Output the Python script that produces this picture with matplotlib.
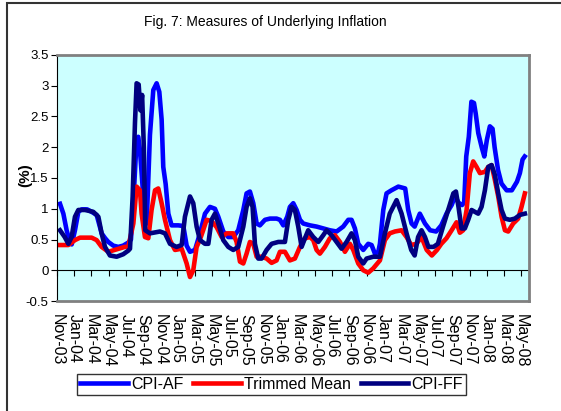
import matplotlib
matplotlib.use("Agg")
import matplotlib.pyplot as plt
from matplotlib.patches import Rectangle
from matplotlib.ticker import FuncFormatter

plt.rcParams['font.family'] = ['Liberation Sans', 'DejaVu Sans']

# time in months counted from Nov-03
tick_labels = ['Nov-03', 'Jan-04', 'Mar-04', 'May-04', 'Jul-04', 'Sep-04', 'Nov-04',
               'Jan-05', 'Mar-05', 'May-05', 'Jul-05', 'Sep-05', 'Nov-05', 'Jan-06',
               'Mar-06', 'May-06', 'Jul-06', 'Sep-06', 'Nov-06', 'Jan-07', 'Mar-07',
               'May-07', 'Jul-07', 'Sep-07', 'Nov-07', 'Jan-08', 'Mar-08', 'May-08']
tick_months = [2 * i for i in range(len(tick_labels))]

# CPI-AF
af_t = [0.35, 0.74, 1.12, 1.51, 1.71, 2.09, 2.48, 2.87, 3.5, 4.03, 4.61, 5.0, 5.19, 5.6,
        5.97, 6.55, 7.13, 7.7, 8.29, 8.6, 8.88, 9.26, 9.45, 9.65, 10.04, 10.43, 10.81,
        11.2, 11.59, 11.9, 12.17, 12.36, 12.64, 12.95, 13.33, 14.1, 14.69, 15.08, 15.47,
        16.05, 16.63, 17.21, 17.79, 18.37, 18.76, 19.34, 19.92, 20.5, 21.08, 21.67, 22.05,
        22.44, 22.83, 23.22, 23.6, 24.19, 24.77, 25.54, 25.93, 26.32, 26.78, 27.09, 27.48,
        27.87, 28.26, 28.64, 29.42, 30.19, 30.97, 31.74, 32.52, 33.29, 33.88, 34.26, 34.65,
        35.04, 35.62, 36.2, 36.59, 36.98, 37.37, 37.56, 37.95, 38.33, 38.9, 39.7, 40.5,
        40.85, 41.24, 41.6, 42.2, 42.8, 43.4, 44.1, 44.7, 45.3, 45.9, 46.3, 46.7, 47.11,
        47.36, 47.6, 47.9, 48.2, 48.5, 48.7, 49.0, 49.4, 49.7, 50.0, 50.35, 50.66, 50.9,
        51.3, 51.7, 52.3, 52.9, 53.5, 53.84, 54.15, 54.4]
af_v = [1.08, 0.92, 0.65, 0.46, 0.42, 0.65, 0.95, 0.99, 0.99, 0.95, 0.9, 0.7, 0.6, 0.52,
        0.46, 0.4, 0.38, 0.4, 0.45, 0.5, 1.1, 2.12, 2.17, 1.95, 1.2, 0.76, 2.2,
        2.93, 3.04, 2.9, 2.45, 1.68, 1.4, 0.92, 0.73, 0.73, 0.72, 0.4, 0.3,
        0.33, 0.6, 0.92, 1.03, 1.0, 0.87, 0.63, 0.54, 0.54, 0.65, 0.98, 1.25,
        1.28, 1.09, 0.76, 0.73, 0.82, 0.84, 0.84, 0.82, 0.73, 0.87, 1.03, 1.09,
        0.98, 0.82, 0.76, 0.73, 0.71, 0.68, 0.65, 0.63, 0.71, 0.82, 0.82, 0.68,
        0.43, 0.33, 0.43, 0.41, 0.27, 0.3, 0.43, 0.98, 1.25, 1.3, 1.36, 1.33,
        0.98, 0.76, 0.71, 0.92, 0.76, 0.65, 0.63, 0.73, 0.92, 1.06, 1.2, 1.1, 1.06,
        1.1, 1.85, 2.17, 2.74, 2.72, 2.55, 2.23, 2.0, 1.85, 2.12, 2.34, 2.3, 2.0,
        1.63, 1.41, 1.3, 1.3, 1.44, 1.58, 1.8, 1.85]

# Trimmed Mean
tm_t = [0.35, 1.32, 2.09, 2.67, 4.03, 4.61, 5.19, 5.97, 6.94, 7.9, 8.29, 8.88, 9.26, 9.65,
        9.84, 10.23, 10.62, 11.0, 11.4, 11.78, 12.17, 12.56, 13.14, 13.72, 14.5, 15.08,
        15.47, 15.85, 16.24, 16.63, 17.0, 17.4, 17.98, 18.57, 19.15, 19.73, 20.5, 20.89,
        21.28, 21.67, 22.05, 22.44, 22.83, 23.22, 23.8, 24.38, 24.96, 25.54, 25.93, 26.51,
        27.09, 27.67, 28.26, 28.84, 29.42, 29.81, 30.19, 30.58, 31.16, 31.74, 32.33, 32.91,
        33.49, 34.07, 34.46, 35.04, 35.62, 36.2, 36.78, 37.2, 37.56, 38.14, 38.7, 39.3,
        40.08, 40.66, 41.2, 41.8, 42.4, 43.0, 43.6, 44.2, 44.7, 45.3, 45.9, 46.47, 46.86,
        47.24, 47.64, 48.02, 48.41, 48.8, 49.19, 49.77, 50.16, 50.55, 50.93, 51.32, 51.71,
        52.1, 52.48, 53.06, 53.64, 54.03, 54.42]
tm_v = [0.41, 0.41, 0.49, 0.53, 0.53, 0.49, 0.38, 0.3, 0.34, 0.38, 0.38, 0.76, 1.36, 1.3,
        0.92, 0.54, 0.52, 0.98, 1.3, 1.33, 1.09, 0.82, 0.49, 0.33, 0.35, 0.11,
        -0.11, 0.0, 0.38, 0.5, 0.65, 0.82, 0.8, 0.7, 0.54, 0.6, 0.6, 0.46,
        0.14, 0.11, 0.27, 0.46, 0.43, 0.22, 0.22, 0.19, 0.12, 0.16, 0.3, 0.3,
        0.16, 0.19, 0.38, 0.52, 0.54, 0.49, 0.33, 0.27, 0.38, 0.52, 0.57, 0.46,
        0.3, 0.43, 0.33, 0.11, 0.0, -0.04, 0.03, 0.1, 0.16, 0.49, 0.6, 0.63,
        0.65, 0.54, 0.41, 0.43, 0.54, 0.33, 0.24, 0.33, 0.43, 0.52, 0.65, 0.78, 0.61,
        0.65, 0.98, 1.58, 1.77, 1.68, 1.58, 1.6, 1.68, 1.71, 1.47, 1.2, 0.87,
        0.65, 0.63, 0.76, 0.84, 1.03, 1.25]

# CPI-FF
ff_t = [0.35, 0.9, 1.32, 1.7, 2.09, 2.48, 3.26, 4.22, 4.81, 5.19, 5.58, 6.16, 6.94, 7.7,
        8.3, 8.49, 8.8, 9.07, 9.26, 9.5, 9.7, 9.9, 10.1, 10.27, 10.81, 11.98, 12.56, 13.14,
        13.91, 14.5, 14.88, 15.47, 15.85, 16.24, 16.63, 17.21, 17.6, 17.98, 18.37, 18.76,
        19.34, 19.92, 20.5, 21.08, 21.67, 22.05, 22.44, 22.75, 23.02, 23.41, 23.8, 24.38,
        24.96, 25.74, 26.51, 26.9, 27.29, 27.67, 28.06, 28.45, 28.84, 29.22, 29.81, 30.39,
        30.97, 31.36, 31.94, 32.52, 33.1, 33.68, 34.26, 34.65, 35.04, 35.62, 36.01, 36.78,
        37.56, 38.14, 38.7, 39.5, 40.08, 40.66, 41.2, 41.6, 42.0, 42.4, 42.8, 43.2, 43.8,
        44.3, 44.9, 45.5, 46.1, 46.4, 46.7, 47.05, 47.44, 47.83, 48.22, 48.6, 48.99, 49.38,
        49.77, 50.16, 50.55, 50.93, 51.32, 51.71, 52.1, 52.67, 53.26, 53.84, 54.42]
ff_v = [0.65, 0.54, 0.43, 0.54, 0.87, 0.98, 0.98, 0.95, 0.87, 0.6, 0.38, 0.24, 0.22, 0.26,
        0.32, 0.35, 1.2, 2.4, 3.04, 3.02, 2.6, 2.85, 2.0, 0.65, 0.6, 0.63, 0.6, 0.43,
        0.38, 0.41, 0.87, 1.2, 1.09, 0.71, 0.49, 0.43, 0.43, 0.82, 0.92, 0.76,
        0.49, 0.38, 0.33, 0.38, 0.71, 1.03, 1.17, 1.03, 0.43, 0.19, 0.19, 0.33,
        0.43, 0.46, 0.46, 0.82, 1.03, 0.98, 0.71, 0.38, 0.52, 0.65, 0.54, 0.46,
        0.57, 0.65, 0.57, 0.46, 0.35, 0.46, 0.6, 0.49, 0.22, 0.11, 0.19, 0.22,
        0.22, 0.6, 0.92, 1.14, 0.92, 0.6, 0.33, 0.24, 0.54, 0.65, 0.54, 0.38, 0.38,
        0.43, 0.71, 0.98, 1.25, 1.28, 1.03, 0.68, 0.68, 0.82, 0.98, 0.95, 0.92, 1.03,
        1.3, 1.68, 1.71, 1.55, 1.25, 0.98, 0.84, 0.82, 0.84, 0.9, 0.92]

W, H = 561, 411
fig = plt.figure(figsize=(W / 100, H / 100), dpi=100)
ax = fig.add_axes([57 / W, 1 - 301 / H, (529 - 57) / W, (301 - 55) / H])
ax.set_facecolor('#CCFFFF')

l1, = ax.plot(af_t, af_v, color='#0000FF', lw=3.3, label='CPI-AF')
l2, = ax.plot(tm_t, tm_v, color='#FF0000', lw=3.3, label='Trimmed Mean')
l3, = ax.plot(ff_t, ff_v, color='#000080', lw=3.3, label='CPI-FF')

ax.set_xlim(0, 54.9)
ax.set_ylim(-0.5, 3.5)
ax.set_yticks([-0.5 + 0.5 * i for i in range(9)])
ax.yaxis.set_major_formatter(FuncFormatter(lambda v, p: '{:g}'.format(v)))
ax.tick_params(axis='y', direction='out', length=4, labelsize=9.5, pad=2)

ax.set_xticks(tick_months)
ax.set_xticklabels(tick_labels, rotation=270, fontsize=11.5)
ax.tick_params(axis='x', length=0, pad=9)

for s in ['top', 'right', 'bottom']:
    ax.spines[s].set_color('#808080')
    ax.spines[s].set_linewidth(2)
ax.spines['left'].set_color('black')

# category axis crossing at zero
sec = ax.secondary_xaxis(0.125)
sec.set_xticks(tick_months)
sec.set_xticklabels([])
sec.tick_params(direction='out', length=4)
sec.spines['bottom'].set_color('black')

fig.text(265 / W, 1 - 22 / H, 'Fig. 7: Measures of Underlying Inflation',
         ha='center', va='center', fontsize=10)
fig.text(25 / W, 1 - 175 / H, '(%)', rotation=90, ha='center', va='center',
         fontsize=11, fontweight='bold')

leg = fig.legend(handles=[l1, l2, l3], loc='center', ncol=3,
                 bbox_to_anchor=(271.5 / W, 1 - 384.5 / H), fontsize=11.5,
                 frameon=True, fancybox=False, edgecolor='black',
                 handlelength=3.0, handletextpad=0.2, columnspacing=0.6,
                 borderpad=0.2)
leg.get_frame().set_linewidth(1)

fig.add_artist(Rectangle((7 / W, -0.1), 1.2, 1.1 - 3 / H, transform=fig.transFigure,
                         fill=False, lw=1.5, ec='#333333'))

fig.savefig('out.png', dpi=100)
